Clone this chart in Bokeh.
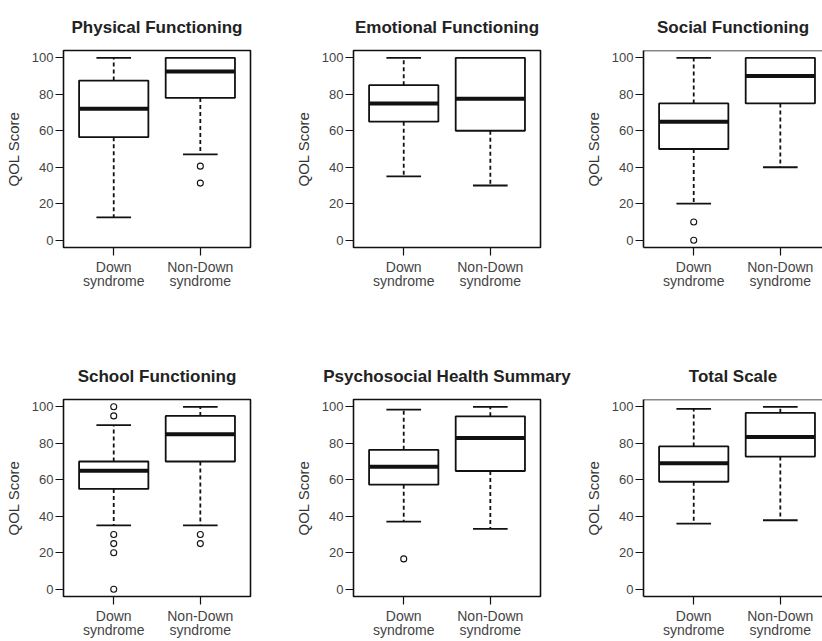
from bokeh.plotting import figure
from bokeh.layouts import row, column
from bokeh.models import FixedTicker, Span, Range1d
from bokeh.embed import file_html
from bokeh.resources import INLINE

# ---------------- data ----------------
groups = ["Down\nsyndrome", "Non-Down\nsyndrome"]
panel_titles = ["Physical Functioning", "Emotional Functioning", "Social Functioning",
                "School Functioning", "Psychosocial Health Summary", "Total Scale"]
y_ticks = [0, 20, 40, 60, 80, 100]

physical_q1 = [56.5, 78.0]
physical_med = [72.0, 92.5]
physical_q3 = [87.5, 100.0]
physical_lo = [12.5, 47.0]
physical_hi = [100.0, 100.0]
physical_out = [[], [40.6, 31.3]]

emotional_q1 = [65.0, 60.0]
emotional_med = [75.0, 77.5]
emotional_q3 = [85.0, 100.0]
emotional_lo = [35.0, 30.0]
emotional_hi = [100.0, 100.0]
emotional_out = [[], []]

social_q1 = [50.0, 75.0]
social_med = [65.0, 90.0]
social_q3 = [75.0, 100.0]
social_lo = [20.0, 40.0]
social_hi = [100.0, 100.0]
social_out = [[10.0, 0.0], []]

school_q1 = [55.0, 70.0]
school_med = [65.0, 85.0]
school_q3 = [70.0, 95.0]
school_lo = [35.0, 35.0]
school_hi = [90.0, 100.0]
school_out = [[100.0, 95.0, 30.0, 25.0, 20.0, 0.0], [30.0, 25.0]]

psycho_q1 = [57.3, 64.8]
psycho_med = [67.2, 82.9]
psycho_q3 = [76.4, 94.8]
psycho_lo = [37.0, 33.1]
psycho_hi = [98.5, 100.0]
psycho_out = [[16.6], []]

total_q1 = [58.9, 72.7]
total_med = [69.1, 83.4]
total_q3 = [78.3, 96.7]
total_lo = [35.9, 37.8]
total_hi = [98.9, 100.0]
total_out = [[], []]

panel_data = [
    (physical_q1, physical_med, physical_q3, physical_lo, physical_hi, physical_out),
    (emotional_q1, emotional_med, emotional_q3, emotional_lo, emotional_hi, emotional_out),
    (social_q1, social_med, social_q3, social_lo, social_hi, social_out),
    (school_q1, school_med, school_q3, school_lo, school_hi, school_out),
    (psycho_q1, psycho_med, psycho_q3, psycho_lo, psycho_hi, psycho_out),
    (total_q1, total_med, total_q3, total_lo, total_hi, total_out),
]

# ---------------- styling ----------------
FONT = "Liberation Sans"
BOX_W = 0.8
CAP_W = 0.4
LINE = "#111111"
PX_PER_UNIT = 86.6
FRAME_W = 187
FRAME_W_LAST = 179
BORDER_L = 63
BORDER_R = 40
BORDER_T = 50


def make_panel(idx, top_row, last_col):
    q1, med, q3, lo, hi, out = panel_data[idx]
    xs = [i + 1 for i in range(len(groups))]
    frame_w = FRAME_W_LAST if last_col else FRAME_W
    x_end = 0.42 + frame_w / PX_PER_UNIT
    width = BORDER_L + frame_w + (0 if last_col else BORDER_R)
    height = 349 if top_row else 292
    bottom_border = height - BORDER_T - 197
    p = figure(width=width, height=height, output_backend="svg", toolbar_location=None,
               x_range=Range1d(0.42, x_end), y_range=Range1d(-4, 104),
               min_border_left=BORDER_L, min_border_right=0 if last_col else BORDER_R,
               min_border_top=BORDER_T, min_border_bottom=bottom_border,
               title=panel_titles[idx])
    p.title.text_font = FONT
    p.title.text_font_size = "17px"
    p.title.text_font_style = "bold"
    p.title.text_color = "#222222"
    p.title.align = "center"
    p.title.padding = 9
    if last_col:
        p.title.offset = 4
    p.xgrid.visible = False
    p.ygrid.visible = False
    p.background_fill_color = "white"
    p.border_fill_color = "white"

    if last_col:
        p.outline_line_color = None
        p.add_layout(Span(location=104, dimension="width", line_color=LINE, line_width=1.6))
    else:
        p.outline_line_color = LINE
        p.outline_line_width = 1.6

    # axes
    for ax in (p.xaxis[0], p.yaxis[0]):
        ax.major_tick_in = 0
        ax.major_tick_out = 8
        ax.minor_tick_line_color = None
        ax.major_tick_line_color = LINE
        ax.major_tick_line_width = 1.2
        ax.axis_line_color = LINE if last_col else None
        ax.axis_line_width = 1.6
        ax.major_label_text_font = FONT
        ax.major_label_text_color = "#444444"
    p.yaxis.ticker = FixedTicker(ticks=y_ticks)
    p.yaxis.major_label_text_font_size = "13px"
    p.yaxis.major_label_standoff = 2
    p.yaxis.axis_label = "QOL Score"
    p.yaxis.axis_label_text_font = FONT
    p.yaxis.axis_label_text_font_size = "15px"
    p.yaxis.axis_label_text_font_style = "normal"
    p.yaxis.axis_label_text_color = "#333333"
    p.yaxis.axis_label_standoff = 7
    p.xaxis.ticker = FixedTicker(ticks=xs)
    p.xaxis.major_label_overrides = {x: g for x, g in zip(xs, groups)}
    p.xaxis.major_label_text_font_size = "14px"
    p.xaxis.major_label_text_line_height = 0.92
    p.xaxis.major_label_standoff = 3

    # whiskers (dashed)
    p.segment(x0=xs, y0=q3, x1=xs, y1=hi, line_color=LINE, line_width=1.8, line_dash="4 3")
    p.segment(x0=xs, y0=q1, x1=xs, y1=lo, line_color=LINE, line_width=1.8, line_dash="4 3")
    # caps
    p.segment(x0=[x - CAP_W / 2 for x in xs], y0=hi, x1=[x + CAP_W / 2 for x in xs], y1=hi,
              line_color=LINE, line_width=1.8)
    p.segment(x0=[x - CAP_W / 2 for x in xs], y0=lo, x1=[x + CAP_W / 2 for x in xs], y1=lo,
              line_color=LINE, line_width=1.8)
    # boxes
    p.quad(left=[x - BOX_W / 2 for x in xs], right=[x + BOX_W / 2 for x in xs],
           bottom=q1, top=q3, fill_color="white", line_color=LINE, line_width=1.8)
    # medians
    p.segment(x0=[x - BOX_W / 2 for x in xs], y0=med, x1=[x + BOX_W / 2 for x in xs], y1=med,
              line_color=LINE, line_width=4)
    # outliers
    ox, oy = [], []
    for x, vals in zip(xs, out):
        for v in vals:
            ox.append(x)
            oy.append(v)
    if ox:
        p.scatter(x=ox, y=oy, marker="circle", size=6, fill_color=None,
                  line_color=LINE, line_width=1.1)
    return p


figs = [make_panel(i, i < 3, i % 3 == 2) for i in range(6)]
layout = column(row(*figs[:3]), row(*figs[3:]))

open("out.html", "w").write(file_html(layout, INLINE))
